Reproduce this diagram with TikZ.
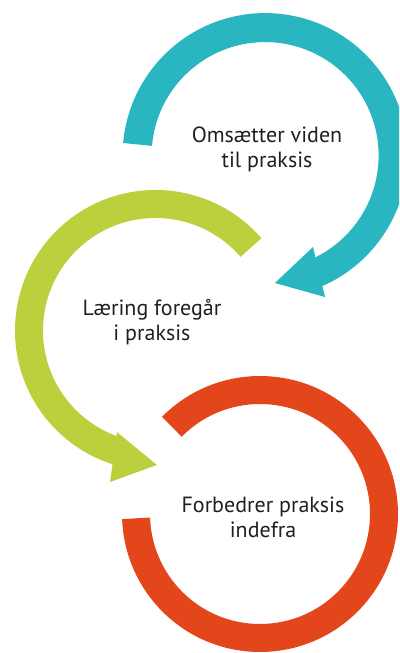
\documentclass[tikz,border=0pt]{standalone}
\usepackage{fontspec}
\setmainfont{PT Sans}
\definecolor{tealc}{HTML}{29B6C1}
\definecolor{greenc}{HTML}{BCD03E}
\definecolor{redc}{HTML}{E4461B}
\definecolor{textc}{HTML}{231F20}
\begin{document}
\begin{tikzpicture}[x=1pt,y=1pt,
  band/.style={line width=#1, line cap=butt},
  lbl/.style={align=center, inner sep=0pt, text=textc,
              font=\fontsize{22}{25}\selectfont}]
\useasboundingbox (0,0) rectangle (399,653);
\clip (0,0) rectangle (399,653);
% teal arrow
\begin{scope}[shift={(265.1,497.4)}]
  \draw[tealc, band=29pt] (175:128pt) arc[start angle=175, end angle=-66.5, radius=128pt];
  \coordinate (tb1) at (-62.35:103.2pt);
  \coordinate (tb2) at (-67.04:153.6pt);
  \coordinate (tt)  at (-85.6:127.8pt);
  \fill[tealc] (tb1) -- (tt) -- (tb2) -- cycle;
\end{scope}
% green arrow
\begin{scope}[shift={(155.5,322.5)}]
  \draw[greenc, band=28pt] (41:126.5pt) arc[start angle=41, end angle=254, radius=126.5pt];
  \coordinate (gb1) at (249.2:108.6pt);
  \coordinate (gb2) at (253.3:158.2pt);
  \coordinate (gt)  at (270.6:134.5pt);
  \fill[greenc] (gb1) -- (gt) -- (gb2) -- cycle;
\end{scope}
% red ring
\begin{scope}[shift={(260,139)}]
  \draw[redc, band=28pt] (135.3:124pt) arc[start angle=135.3, end angle=-178, radius=124pt];
\end{scope}
\node[lbl] (t1) at (267,504) {Omsætter viden\\til praksis};
\node[lbl] (t2) at (152,331) {Læring foregår\\i praksis};
\node[lbl] (t3) at (263,136) {Forbedrer praksis\\indefra};
\end{tikzpicture}
\end{document}
